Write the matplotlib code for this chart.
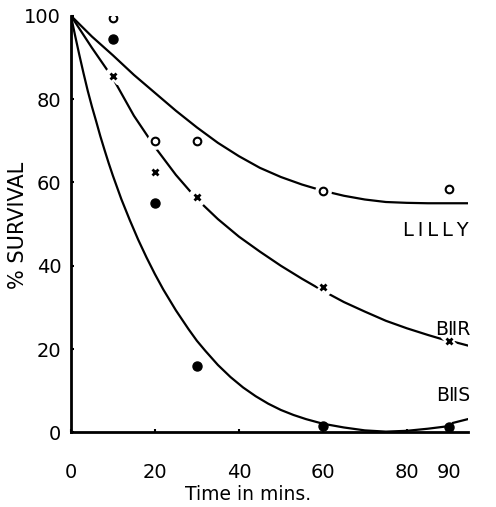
import matplotlib.pyplot as plt

# measured points
t_pts = [10, 20, 30, 60, 90]
lilly_pts = [99.5, 70, 70, 58, 58.5]
b2r_pts = [85.5, 62.5, 56.5, 35, 22]
b2s_pts = [94.5, 55, 16, 1.5, 1.2]

# hand-drawn fitted curves
lilly_t = [0, 5, 10, 15, 20, 25, 30, 35, 40, 45, 50, 55, 60, 65, 70, 75, 80, 85, 90, 96]
lilly_v = [100, 95, 90.5, 85.8, 81.5, 77.2, 73.2, 69.5, 66.3, 63.5, 61.3, 59.5, 58.0, 56.8, 55.9, 55.3, 55.1, 55.0, 55.0, 55.0]

b2r_t = [0, 5, 10, 15, 20, 25, 30, 35, 40, 45, 50, 55, 60, 65, 70, 75, 80, 85, 89]
b2r_v = [100, 92.3, 85.0, 76.0, 68.5, 61.8, 56.0, 51.2, 47.0, 43.4, 40.0, 36.9, 34.0, 31.3, 29.0, 26.8, 25.0, 23.4, 22.2]
b2r_tail_t = [91, 95.5]
b2r_tail_v = [21.8, 20.6]

b2s_t = [0, 1, 2, 3, 4, 5, 6, 7, 8, 9, 10, 12, 14, 16, 18, 20, 22, 25, 28, 30, 32, 35, 38, 41,
         44, 47, 50, 53, 56, 60, 65, 70, 75, 80, 85, 89]
b2s_v = [100, 95.2, 90.6, 86.2, 82.0, 78.2, 74.7, 71.1, 67.8, 64.6, 61.6, 56.0, 51.0, 46.3, 42.0,
         38.0, 34.3, 29.3, 24.8, 22.0, 19.6, 16.2, 13.3, 10.8, 8.7, 6.9, 5.4, 4.2, 3.2, 2.1, 1.2,
         0.5, 0.2, 0.4, 0.9, 1.4]
b2s_tail_t = [91, 95.7]
b2s_tail_v = [2.3, 3.5]

xticks = [0, 20, 40, 60, 80, 90]
yticks = [0, 20, 40, 60, 80, 100]

fig = plt.figure(figsize=(4.96, 5.07), dpi=100)
ax = fig.add_axes([0.143, 0.147, 0.80, 0.822])

lw = 1.6
ax.plot(lilly_t, lilly_v, color='black', lw=lw, zorder=2)
ax.plot(b2r_t, b2r_v, color='black', lw=lw, zorder=2)
ax.plot(b2r_tail_t, b2r_tail_v, color='black', lw=lw, zorder=2)
ax.plot(b2s_t, b2s_v, color='black', lw=lw, zorder=2)
ax.plot(b2s_tail_t, b2s_tail_v, color='black', lw=lw, zorder=2)

# white halo so the line breaks around the markers
for pts, mk, ms in [(lilly_pts, 'o', 11), (b2r_pts, 'X', 11)]:
    ax.plot(t_pts, pts, ls='none', marker=mk, ms=ms, color='white', zorder=3)

ax.plot(t_pts, lilly_pts, ls='none', marker='o', ms=5.5, mfc='white', mec='black', mew=1.5, zorder=4)
ax.plot(t_pts, b2r_pts, ls='none', marker='x', ms=4.5, color='black', mew=2.0, zorder=4)
ax.plot(t_pts, b2s_pts, ls='none', marker='o', ms=6.5, color='black', zorder=4)

ax.text(87, 48.5, 'L\u2009I\u2009L\u2009L\u2009Y', fontsize=14, ha='center', va='center')
ax.text(91, 24.8, 'B\u2161R', fontsize=13.5, ha='center', va='center')
ax.text(91, 8.8, 'B\u2161S', fontsize=13.5, ha='center', va='center')

ax.set_xlim(0, 94.5)
ax.set_ylim(0, 100)
ax.set_xticks(xticks)
ax.set_yticks(yticks)
ax.tick_params(axis='both', direction='in', length=2, width=1.5, labelsize=14)
ax.tick_params(axis='x', pad=22)
ax.tick_params(axis='y', pad=7)

for side in ['top', 'right']:
    ax.spines[side].set_visible(False)
for side in ['left', 'bottom']:
    ax.spines[side].set_linewidth(2)

fig.text(18 / 496, 1 - 225 / 507, '% SURVIVAL', rotation=90, fontsize=15, ha='center', va='center')
fig.text(248 / 496, 1 - 494 / 507, 'Time in mins.', fontsize=13.5, ha='center', va='center')

fig.savefig('out.png', dpi=100)
